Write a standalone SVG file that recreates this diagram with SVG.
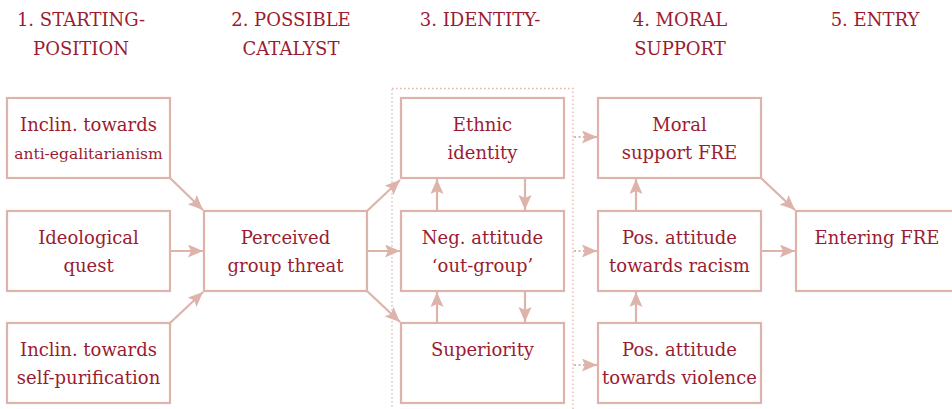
<svg xmlns="http://www.w3.org/2000/svg" width="952" height="409" viewBox="0 0 952 409">
<defs>
<marker id="ah" markerUnits="userSpaceOnUse" markerWidth="16" markerHeight="14" refX="15" refY="6.5" orient="auto">
<path d="M0,0 L15,6.5 L0,13 L3,6.5 Z" fill="#ddb3aa"/>
</marker>
<style>
.box{fill:#fff;stroke:#ddb3aa;stroke-width:2.2}
.t{font-family:"DejaVu Serif","Liberation Serif",serif;font-size:18px;fill:#9b1c31;text-anchor:middle}
.s{font-size:15.5px}
.h{font-family:"DejaVu Serif","Liberation Serif",serif;font-size:18px;fill:#9b1c31;text-anchor:middle}
.c{fill:none;stroke:#ddb3aa;stroke-width:2.2;marker-end:url(#ah)}
.d{fill:none;stroke:#ddb3aa;stroke-width:2.2;stroke-dasharray:2 2.5}
.dot{fill:none;stroke:#e3b9b2;stroke-width:1.4;stroke-dasharray:1.6 2.4}
</style>
</defs>
<rect width="952" height="409" fill="#fff"/>
<g id="headers">
<text class="h" x="81" y="26">1. STARTING-</text>
<text class="h" x="81" y="55">POSITION</text>
<text class="h" x="291" y="26">2. POSSIBLE</text>
<text class="h" x="291" y="55">CATALYST</text>
<text class="h" x="480" y="26">3. IDENTITY-</text>
<text class="h" x="680" y="26">4. MORAL</text>
<text class="h" x="680" y="55">SUPPORT</text>
<text class="h" x="875" y="26">5. ENTRY</text>
</g>
<rect class="dot" x="392" y="88.5" width="181" height="330"/>
<g id="n1"><rect class="box" x="7" y="98" width="163" height="80"/><text class="t" x="88.5" y="131">Inclin. towards</text><text class="t s" x="88.5" y="159">anti-egalitarianism</text></g>
<g id="n2"><rect class="box" x="7" y="211" width="163" height="80"/><text class="t" x="88.5" y="244">Ideological</text><text class="t" x="88.5" y="272">quest</text></g>
<g id="n3"><rect class="box" x="7" y="323" width="163" height="80"/><text class="t" x="88.5" y="356">Inclin. towards</text><text class="t" x="88.5" y="384">self-purification</text></g>
<g id="n4"><rect class="box" x="204" y="211" width="163" height="80"/><text class="t" x="285.5" y="244">Perceived</text><text class="t" x="285.5" y="272">group threat</text></g>
<g id="n5"><rect class="box" x="401" y="98" width="163" height="80"/><text class="t" x="482.5" y="131">Ethnic</text><text class="t" x="482.5" y="159">identity</text></g>
<g id="n6"><rect class="box" x="401" y="211" width="163" height="80"/><text class="t" x="482.5" y="244">Neg. attitude</text><text class="t" x="482.5" y="272">‘out-group’</text></g>
<g id="n7"><rect class="box" x="401" y="323" width="163" height="80"/><text class="t" x="482.5" y="356">Superiority</text></g>
<g id="n8"><rect class="box" x="598" y="98" width="163" height="80"/><text class="t" x="679.5" y="131">Moral</text><text class="t" x="679.5" y="159">support FRE</text></g>
<g id="n9"><rect class="box" x="598" y="211" width="163" height="80"/><text class="t" x="679.5" y="244">Pos. attitude</text><text class="t" x="679.5" y="272">towards racism</text></g>
<g id="n10"><rect class="box" x="598" y="323" width="163" height="80"/><text class="t" x="679.5" y="356">Pos. attitude</text><text class="t" x="679.5" y="384">towards violence</text></g>
<g id="n11"><rect class="box" x="796" y="211" width="170" height="80"/><text class="t" x="877" y="244">Entering FRE</text></g>
<g id="connectors">
<line class="c" x1="170" y1="178" x2="203" y2="210"/>
<line class="c" x1="170" y1="251" x2="203" y2="251"/>
<line class="c" x1="170" y1="323" x2="203" y2="292"/>
<line class="c" x1="367" y1="211" x2="400" y2="180"/>
<line class="c" x1="367" y1="251" x2="400" y2="251"/>
<line class="c" x1="367" y1="291" x2="400" y2="322"/>
<line class="c" x1="437" y1="211" x2="437" y2="179"/>
<line class="c" x1="525" y1="178" x2="525" y2="210"/>
<line class="c" x1="437" y1="323" x2="437" y2="292"/>
<line class="c" x1="525" y1="291" x2="525" y2="322"/>
<line class="d" x1="574" y1="137" x2="586" y2="137"/><line class="c" x1="583" y1="137" x2="597" y2="137"/>
<line class="d" x1="574" y1="251" x2="586" y2="251"/><line class="c" x1="583" y1="251" x2="597" y2="251"/>
<line class="d" x1="574" y1="365" x2="586" y2="365"/><line class="c" x1="583" y1="365" x2="597" y2="365"/>
<line class="c" x1="636" y1="211" x2="636" y2="179"/>
<line class="c" x1="636" y1="323" x2="636" y2="292"/>
<line class="c" x1="761" y1="178" x2="795" y2="210"/>
<line class="c" x1="761" y1="251" x2="795" y2="251"/>
</g>
</svg>
